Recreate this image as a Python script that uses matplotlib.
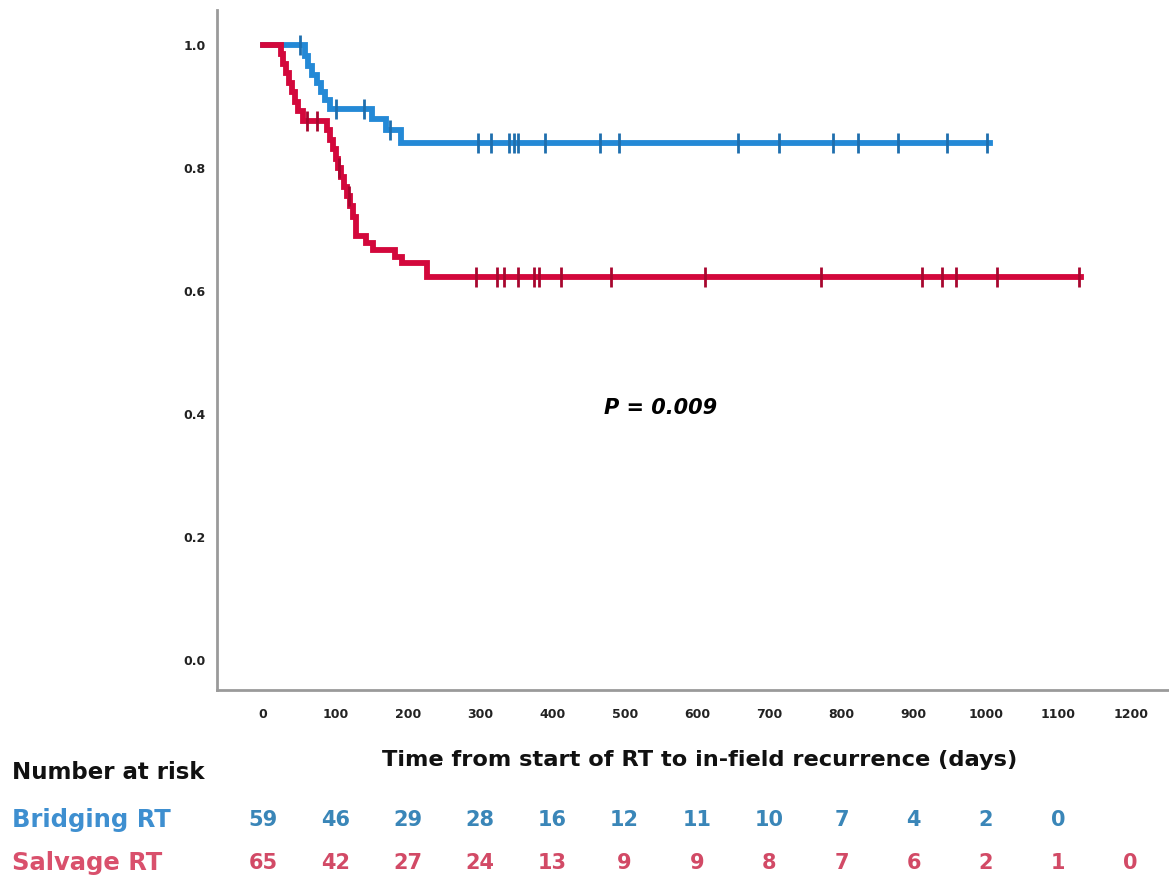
import numpy as np
import matplotlib.pyplot as plt

plt.rcParams['font.family'] = ['DejaVu Sans']

# Kaplan-Meier curves (time in days, survival after step)
blue_t = [0, 58, 62, 68, 74, 80, 86, 93, 150, 170, 190, 1005]
blue_s = [1.0, 0.983, 0.966, 0.952, 0.938, 0.924, 0.91, 0.896, 0.88, 0.862, 0.841, 0.841]
blue_cens = [51, 100, 140, 175, 297, 315, 340, 347, 353, 390, 466, 492, 657, 714,
             788, 823, 878, 946, 1001]

red_t = [0, 24, 28, 32, 36, 40, 44, 48, 55, 88, 92, 96, 100, 104, 108, 112,
         116, 120, 124, 128, 142, 152, 182, 192, 227, 1131]
red_s = [1.0, 0.985, 0.969, 0.954, 0.938, 0.923, 0.908, 0.892, 0.877, 0.862,
         0.846, 0.831, 0.815, 0.80, 0.785, 0.769, 0.754, 0.738, 0.72, 0.69,
         0.678, 0.667, 0.655, 0.645, 0.623, 0.623]
red_cens = [60, 75, 105, 118, 295, 324, 333, 353, 375, 382, 412, 481, 611, 772,
            911, 939, 959, 1015, 1129]

risk_times = [0, 100, 200, 300, 400, 500, 600, 700, 800, 900, 1000, 1100, 1200]
bridging_risk = [59, 46, 29, 28, 16, 12, 11, 10, 7, 4, 2, 0]
salvage_risk = [65, 42, 27, 24, 13, 9, 9, 8, 7, 6, 2, 1, 0]

blue = '#2489d6'
red = '#d3083c'

fig = plt.figure(figsize=(11.69, 8.8), dpi=100)
ax = fig.add_axes([0.1856, 0.2159, 0.8144, 0.7727])


def surv_at(times, surv, x):
    idx = np.searchsorted(times, x, side='right') - 1
    return np.asarray(surv)[idx]


ax.step(blue_t, blue_s, where='post', color=blue, lw=4.2, solid_joinstyle='miter')
ax.step(red_t, red_s, where='post', color=red, lw=4.2, solid_joinstyle='miter')
ax.plot(blue_cens, surv_at(blue_t, blue_s, blue_cens), ls='none', marker='|',
        ms=14, mew=2, color='#1f6fae')
ax.plot(red_cens, surv_at(red_t, red_s, red_cens), ls='none', marker='|',
        ms=14, mew=2, color='#a8062f')

ax.text(549, 0.41, 'P = 0.009', ha='center', va='center', fontsize=15,
        fontweight='bold', fontstyle='italic')

ax.set_xlim(-64, 1253)
ax.set_ylim(-0.049, 1.057)
ax.set_xticks(risk_times)
ax.set_yticks([0.0, 0.2, 0.4, 0.6, 0.8, 1.0])
ax.set_yticklabels(['0.0', '0.2', '0.4', '0.6', '0.8', '1.0'])
ax.tick_params(length=0, labelsize=9)
ax.tick_params(axis='x', pad=13)
ax.tick_params(axis='y', pad=8)
for lab in ax.get_xticklabels() + ax.get_yticklabels():
    lab.set_fontweight('bold')
    lab.set_color('#222222')
for side in ['top', 'right']:
    ax.spines[side].set_visible(False)
for side in ['left', 'bottom']:
    ax.spines[side].set_color('#9a9a9a')
    ax.spines[side].set_linewidth(2)

trans = ax.get_xaxis_transform()
ax.text(604, -0.103, 'Time from start of RT to in-field recurrence (days)',
        transform=trans, ha='center', va='center', fontsize=16.2,
        fontweight='bold', color='#111111')

for t, n in zip(risk_times, bridging_risk):
    ax.text(t, -0.191, str(n), transform=trans, ha='center', va='center',
            fontsize=15, fontweight='bold', color='#3a86b8', clip_on=False)
for t, n in zip(risk_times, salvage_risk):
    ax.text(t, -0.254, str(n), transform=trans, ha='center', va='center',
            fontsize=15, fontweight='bold', color='#d24a66', clip_on=False)

fig.text(12 / 1169, 1 - 772 / 880, 'Number at risk', ha='left', va='center',
         fontsize=16.5, fontweight='bold', color='#111111')
fig.text(12 / 1169, 1 - 820 / 880, 'Bridging RT', ha='left', va='center',
         fontsize=17.5, fontweight='bold', color='#3e8fd0')
fig.text(12 / 1169, 1 - 863 / 880, 'Salvage RT', ha='left', va='center',
         fontsize=17.5, fontweight='bold', color='#d9506c')

fig.savefig('out.png', dpi=100)
